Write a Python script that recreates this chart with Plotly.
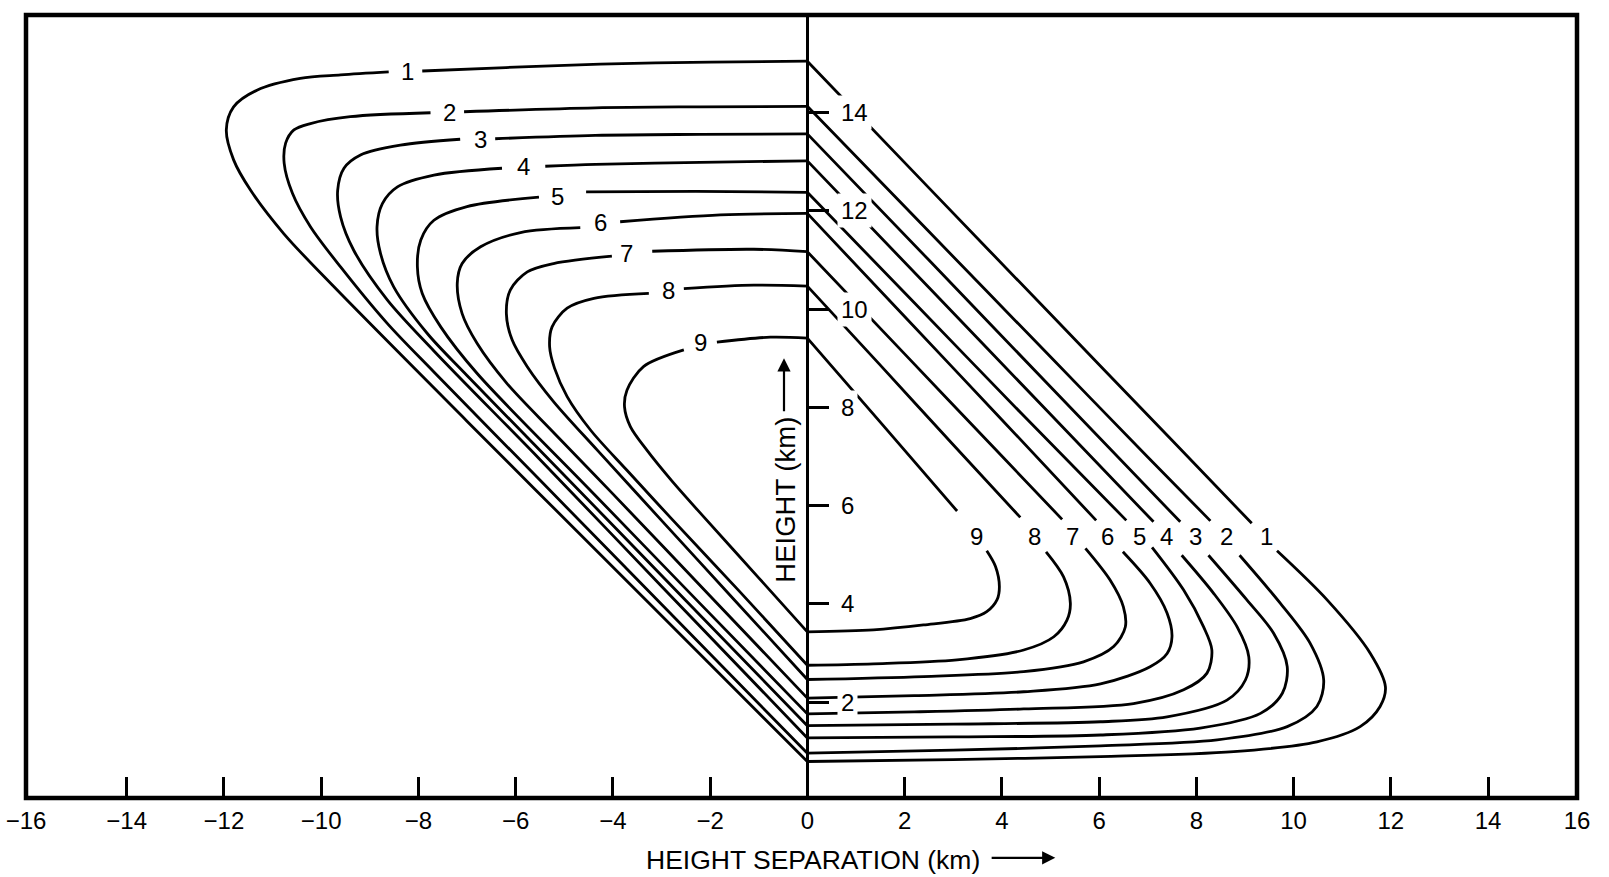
import plotly.graph_objects as go

GAP = (None, None)

# Contour lines as (height separation km, height km) points.
# Each contour: left half (top horizontal -> corner -> diagonal), then right half
# (diagonal -> corner -> bottom horizontal). GAP = break left for a label.
contour_1 = [(0, 15.05), (-2.0, 15.03), (-4.26, 14.99), (-6.2, 14.92), (-7.92, 14.85), GAP,
             (-8.61, 14.83), (-9.6, 14.77), (-10.43, 14.70), (-11.32, 14.46), (-11.80, 14.12),
             (-11.95, 13.65), (-11.80, 13.04), (-11.45, 12.42), (-10.77, 11.54), (-9.74, 10.46),
             (-7.0, 7.72), (-4.0, 4.75), (-2.0, 2.77), (0, 0.79), GAP,
             (0, 15.05), (2.5, 12.47), (5.0, 9.90), (7.5, 7.33), (9.14, 5.64), GAP,
             (9.66, 5.08), (10.69, 4.08), (11.58, 2.99), (11.89, 2.31), (11.78, 1.91), (11.37, 1.50),
             (10.48, 1.19), (8.77, 0.99), (6.03, 0.89), (3.0, 0.83), (0, 0.79)]
contour_2 = [(0, 14.13), (-2.2, 14.12), (-4.36, 14.10), (-7.06, 14.02), GAP,
             (-7.75, 14.0), (-9.40, 13.92), (-10.22, 13.78), (-10.56, 13.65), (-10.73, 13.38),
             (-10.76, 12.97), (-10.59, 12.36), (-10.22, 11.68), (-9.60, 10.86), (-8.64, 9.71),
             (-7.68, 8.72), (-5.5, 6.52), (-3.0, 3.99), (0, 0.96), GAP,
             (0, 14.13), (2.5, 11.58), (5.0, 9.03), (7.0, 6.99), (8.29, 5.69), GAP,
             (8.89, 4.99), (9.73, 4.01), (10.34, 3.20), (10.62, 2.45), (10.48, 1.91), (9.87, 1.50),
             (8.43, 1.23), (6.03, 1.11), (3.0, 1.02), (0, 0.96)]
contour_3 = [(0, 13.57), (-2.2, 13.56), (-4.36, 13.54), (-6.42, 13.47), GAP,
             (-7.14, 13.46), (-8.37, 13.34), (-9.19, 13.14), (-9.53, 12.87), (-9.66, 12.42),
             (-9.60, 11.88), (-9.33, 11.20), (-8.64, 10.19), (-7.68, 9.15), (-5.5, 6.94),
             (-3.0, 4.36), (0, 1.27), GAP,
             (0, 13.57), (2.5, 11.0), (5.0, 8.42), (7.67, 5.67), GAP,
             (8.25, 4.99), (9.04, 4.08), (9.59, 3.40), (9.87, 2.72), (9.77, 2.18), (9.32, 1.77),
             (8.08, 1.47), (6.03, 1.33), (3.0, 1.29), (0, 1.27)]
contour_4 = [(0, 13.02), (-2.2, 12.99), (-4.36, 12.95), (-5.39, 12.91), GAP,
             (-6.28, 12.87), (-7.68, 12.73), (-8.43, 12.49), (-8.74, 12.15), (-8.85, 11.68),
             (-8.78, 11.14), (-8.51, 10.46), (-7.82, 9.51), (-7.0, 8.65), (-5.0, 6.62),
             (-2.5, 4.07), (0, 1.52), GAP,
             (0, 13.02), (2.5, 10.44), (5.0, 7.86), (7.12, 5.67), GAP,
             (7.70, 4.99), (8.36, 4.21), (8.84, 3.53), (9.08, 2.92), (9.01, 2.45), (8.63, 2.04),
             (7.40, 1.70), (6.03, 1.60), (3.0, 1.55), (0, 1.52)]
contour_5 = [(0, 12.38), (-2.3, 12.40), (-4.55, 12.39), GAP,
             (-5.52, 12.28), (-7.0, 12.09), (-7.68, 11.81), (-7.95, 11.41), (-8.02, 10.86),
             (-7.92, 10.32), (-7.54, 9.64), (-6.79, 8.69), (-4.5, 6.35), (-2.2, 4.0), (0, 1.76), GAP,
             (0, 12.38), (2.2, 10.13), (4.4, 7.88), (6.56, 5.70), GAP,
             (7.09, 5.15), (7.74, 4.28), (8.15, 3.53), (8.32, 3.06), (8.22, 2.59), (7.74, 2.25),
             (6.71, 1.97), (4.45, 1.86), (2.2, 1.80), (0, 1.76)]
contour_6 = [(0, 11.95), (-1.79, 11.92), (-3.85, 11.78), GAP,
             (-4.67, 11.66), (-5.90, 11.56), (-6.72, 11.27), (-7.10, 10.93), (-7.20, 10.53),
             (-7.10, 9.91), (-6.79, 9.30), (-6.18, 8.49), (-5.22, 7.49), (-4.0, 6.24),
             (-2.0, 4.16), (0, 2.08), GAP,
             (0, 11.95), (2.0, 9.85), (4.0, 7.75), (5.94, 5.70), GAP,
             (6.49, 5.06), (7.05, 4.42), (7.40, 3.81), (7.50, 3.33), (7.40, 2.99), (7.05, 2.72),
             (6.03, 2.37), (4.45, 2.21), (2.2, 2.13), (0, 2.08)]
contour_7 = [(0, 11.17), (-1.10, 11.22), (-3.19, 11.18), GAP,
             (-4.02, 11.08), (-5.22, 10.93), (-5.76, 10.76), (-6.11, 10.39), (-6.19, 9.91),
             (-6.07, 9.37), (-5.76, 8.83), (-5.22, 8.12), (-4.32, 7.13), (-3.0, 5.70),
             (-1.5, 4.08), (0, 2.46), GAP,
             (0, 11.17), (2.0, 9.09), (4.0, 7.01), (5.24, 5.72), GAP,
             (5.72, 5.13), (6.23, 4.48), (6.50, 3.94), (6.54, 3.53), (6.30, 3.13), (5.68, 2.82),
             (4.45, 2.62), (2.39, 2.52), (0, 2.46)]
contour_8 = [(0, 10.47), (-1.10, 10.49), (-2.54, 10.42), GAP,
             (-3.26, 10.32), (-4.39, 10.22), (-4.94, 10.02), (-5.25, 9.64), (-5.30, 9.23),
             (-5.20, 8.80), (-4.94, 8.22), (-4.46, 7.54), (-3.71, 6.72), (-2.8, 5.74),
             (-1.4, 4.26), (0, 2.75), GAP,
             (0, 10.47), (1.5, 8.86), (3.0, 7.24), (4.38, 5.76), GAP,
             (4.91, 5.06), (5.27, 4.55), (5.41, 4.01), (5.34, 3.67), (5.07, 3.33), (4.45, 3.06),
             (3.08, 2.86), (1.36, 2.78), (0, 2.75)]
contour_9 = [(0, 9.41), (-0.76, 9.43), (-1.86, 9.33), GAP,
             (-2.54, 9.17), (-3.37, 8.83), (-3.71, 8.35), (-3.76, 8.01), (-3.64, 7.61),
             (-3.30, 7.13), (-2.80, 6.52), (-2.13, 5.77), (-1.0, 4.53), (0, 3.43), GAP,
             (0, 9.41), (1.5, 7.70), (3.08, 5.89), GAP,
             (3.69, 5.08), (3.87, 4.76), (3.95, 4.35), (3.90, 4.08), (3.69, 3.84), (3.35, 3.70),
             (2.39, 3.57), (1.36, 3.47), (0, 3.43)]

contours = [contour_1, contour_2, contour_3, contour_4, contour_5,
            contour_6, contour_7, contour_8, contour_9]

# Contour labels
contour_label_text = ["1", "2", "3", "4", "5", "6", "7", "8", "9"]
left_label_x = [-8.23, -7.37, -6.73, -5.83, -5.14, -4.25, -3.72, -2.86, -2.19]
left_label_h = [14.83, 14.01, 13.45, 12.91, 12.29, 11.76, 11.14, 10.39, 9.33]
right_label_x = [9.45, 8.63, 7.98, 7.39, 6.83, 6.18, 5.46, 4.67, 3.47]
right_label_h = [5.37, 5.37, 5.37, 5.37, 5.37, 5.37, 5.37, 5.37, 5.37]

# Axes (the scanned frame sits slightly left of the nominal -16 / 16 marks)
x_range = [-16.07, 15.83]
y_range = [0.047, 15.99]
x_tick_vals = [x_range[0], -14, -12, -10, -8, -6, -4, -2, 0, 2, 4, 6, 8, 10, 12, 14, x_range[1]]
x_tick_text = ["\u221216", "\u221214", "\u221212", "\u221210", "\u22128", "\u22126", "\u22124",
               "\u22122", "0", "2", "4", "6", "8", "10", "12", "14", "16"]
y_tick_vals = [2, 4, 6, 8, 10, 12, 14]
y_tick_text = ["2", "4", "6", "8", "10", "12", "14"]

x_title = "HEIGHT SEPARATION (km)"
y_title = "HEIGHT (km)"

FONT = "Liberation Sans, Arial, Helvetica, sans-serif"

fig = go.Figure()
for c in contours:
    fig.add_trace(go.Scatter(
        x=[p[0] for p in c], y=[p[1] for p in c], mode="lines",
        line=dict(color="black", width=2.8, shape="spline", smoothing=0.9),
        connectgaps=False, hoverinfo="skip", showlegend=False))

annotations = []
for t, x, h in zip(contour_label_text, left_label_x, left_label_h):
    annotations.append(dict(x=x, y=h, xref="x", yref="y", text=t, showarrow=False,
                            font=dict(family=FONT, size=24, color="black")))
for t, x, h in zip(contour_label_text, right_label_x, right_label_h):
    annotations.append(dict(x=x, y=h, xref="x", yref="y", text=t, showarrow=False,
                            font=dict(family=FONT, size=24, color="black")))
# height tick labels on the central axis (white boxes break the lines as in the original)
for v, t in zip(y_tick_vals, y_tick_text):
    annotations.append(dict(x=0.62, y=v, xref="x", yref="y", text=t, showarrow=False,
                            xanchor="left", yanchor="middle", bgcolor="white", borderpad=3,
                            font=dict(family=FONT, size=24, color="black")))
# axis titles
annotations.append(dict(x=0.12, y=-0.079, xref="x", yref="y domain", text=x_title,
                        showarrow=False, xanchor="center", yanchor="middle",
                        font=dict(family=FONT, size=26.5, color="black")))
annotations.append(dict(x=5.1, y=-0.0764, xref="x", yref="y domain", ax=3.76, ay=-0.0764,
                        axref="x", ayref="y domain", text="", showarrow=True,
                        arrowhead=2, arrowsize=1.2, arrowwidth=2.2, arrowcolor="black"))
annotations.append(dict(x=-0.45, y=6.13, xref="x", yref="y", text=y_title, showarrow=False,
                        textangle=-90, xanchor="center", yanchor="middle",
                        font=dict(family=FONT, size=27.5, color="black")))
annotations.append(dict(x=-0.48, y=9.0, xref="x", yref="y", ax=-0.48, ay=7.89,
                        axref="x", ayref="y", text="", showarrow=True,
                        arrowhead=2, arrowsize=1.2, arrowwidth=2.2, arrowcolor="black"))

fig.update_layout(
    width=1609, height=877, autosize=False,
    margin=dict(l=26, r=32, t=15, b=79, autoexpand=False),
    paper_bgcolor="white", plot_bgcolor="white",
    showlegend=False,
    annotations=annotations,
    xaxis=dict(range=x_range, tickvals=x_tick_vals, ticktext=x_tick_text,
               ticks="inside", ticklen=21, tickwidth=2.5, tickcolor="black",
               showgrid=False, zeroline=False, showline=False, automargin=False,
               ticklabelstandoff=6,
               tickfont=dict(family=FONT, size=24, color="black")),
    yaxis=dict(range=y_range, tickvals=y_tick_vals, ticktext=y_tick_text,
               anchor="free", position=(0 - x_range[0]) / (x_range[1] - x_range[0]),
               side="right", automargin=False,
               ticks="outside", ticklen=20, tickwidth=3, tickcolor="black",
               showticklabels=False, showgrid=False, zeroline=False,
               showline=True, linewidth=2.6, linecolor="black"),
    shapes=[dict(type="rect", xref="paper", yref="paper", x0=0, x1=1, y0=0, y1=1,
                 line=dict(color="black", width=4.5), layer="above")],
)

fig.write_html("out.html", config={"displayModeBar": False})
